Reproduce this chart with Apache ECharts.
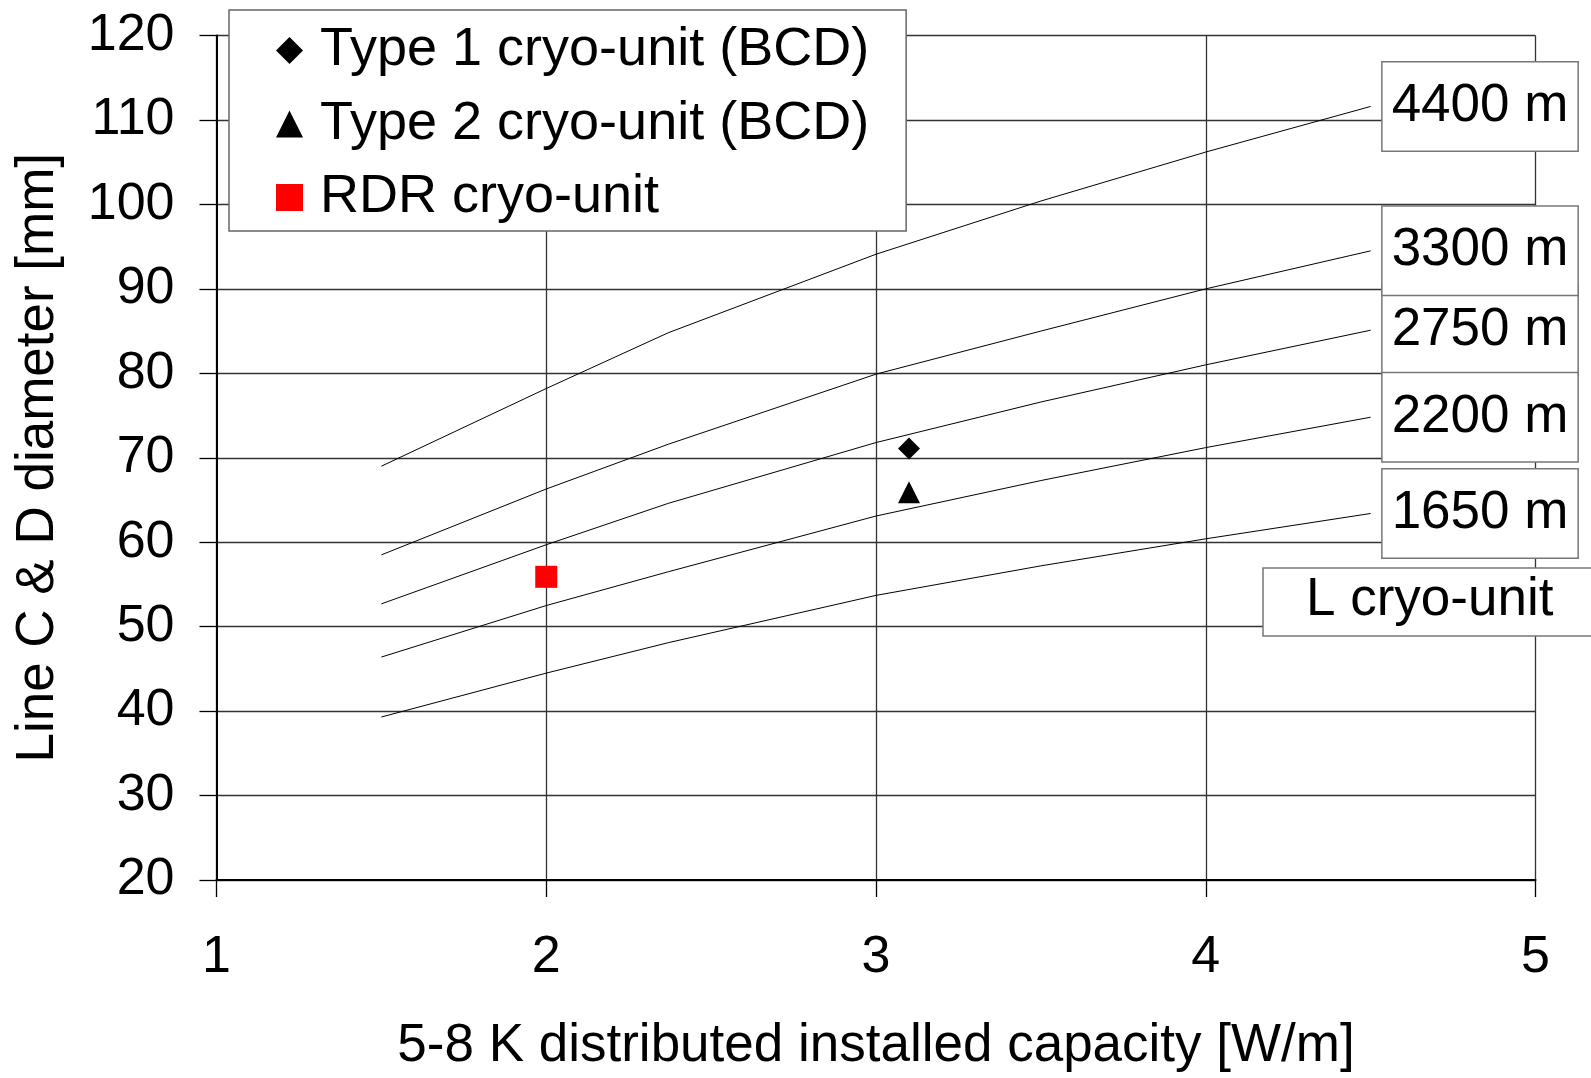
<!DOCTYPE html>
<html>
<head>
<meta charset="utf-8">
<script src="https://cdn.jsdelivr.net/npm/echarts@6/dist/echarts.min.js"></script>
<style>
html,body{margin:0;padding:0;background:#fff;}
#chart{width:1591px;height:1078px;}
</style>
</head>
<body>
<div id="chart"></div>
<script>
// ---- data ----
const capacityX = [1.5, 2, 2.37, 3, 3.5, 4, 4.5];
const L4400 = [69.0, 78.2, 84.8, 94.1, 100.4, 106.2, 111.6];
const L3300 = [58.5, 66.3, 71.6, 79.9, 85.0, 90.0, 94.5];
const L2750 = [52.7, 59.7, 64.6, 71.8, 76.6, 81.0, 85.1];
const L2200 = [46.4, 52.5, 56.5, 63.1, 67.3, 71.2, 74.8];
const L1650 = [39.3, 44.5, 48.1, 53.7, 57.2, 60.4, 63.4];
const curveNames = ['4400 m', '3300 m', '2750 m', '2200 m', '1650 m'];
const curveValues = [L4400, L3300, L2750, L2200, L1650];

const type1Point = [3.1, 71.1];
const type2Point = [3.1, 65.9];
const rdrPoint = [2.0, 55.9];
const pointNames = ['Type 1 cryo-unit (BCD)', 'Type 2 cryo-unit (BCD)', 'RDR cryo-unit'];

const xTicks = [1, 2, 3, 4, 5];
const yTicks = [20, 30, 40, 50, 60, 70, 80, 90, 100, 110, 120];
const xTitle = '5-8 K distributed installed capacity [W/m]';
const yTitle = 'Line C & D diameter [mm]';
const boxNote = 'L cryo-unit';

// ---- chart ----
const FONT = "'Liberation Sans', Arial, sans-serif";
const chart = echarts.init(document.getElementById('chart'), null, {renderer: 'canvas'});

function pairs(xs, ys) { return xs.map((x, i) => [x, ys[i]]); }

const lineSeries = curveNames.map((name, i) => ({
  name: name,
  type: 'line',
  data: pairs(capacityX, curveValues[i]),
  symbol: 'none',
  silent: true,
  z: name === '2750 m' ? 2 : 3,
  lineStyle: {color: '#000', width: 1},
  endLabel: {
    show: true,
    formatter: '{a}',
    distance: 12,
    fontFamily: FONT,
    fontSize: 53,
    lineHeight: 54,
    color: '#000',
    backgroundColor: '#fff',
    borderColor: '#777',
    borderWidth: 1.5,
    padding: [17, 9, 17, 9]
  }
}));

const option = {
  animation: false,
  backgroundColor: '#fff',
  textStyle: {fontFamily: FONT},
  title: {
    text: boxNote,
    left: 1263,
    top: 568,
    padding: [6, 60, 9, 43],
    backgroundColor: '#fff',
    borderColor: '#777',
    borderWidth: 1.5,
    textStyle: {fontFamily: FONT, fontSize: 53, fontWeight: 'normal', color: '#000', lineHeight: 53}
  },
  legend: {
    orient: 'vertical',
    left: 229,
    top: 10,
    padding: [13.5, 37, 6.5, 47],
    itemGap: 19.5,
    itemWidth: 27,
    itemHeight: 27,
    backgroundColor: '#fff',
    borderColor: '#666',
    borderWidth: 1.5,
    selectedMode: false,
    textStyle: {fontFamily: FONT, fontSize: 54, color: '#000', padding: [0, 0, 0, 12]},
    data: [
      {name: pointNames[0], icon: 'diamond'},
      {name: pointNames[1], icon: 'triangle'},
      {name: pointNames[2], icon: 'rect'}
    ]
  },
  grid: {left: 216.5, right: 55.5, top: 35.5, bottom: 193.2, containLabel: false},
  xAxis: {
    type: 'value',
    min: xTicks[0],
    max: xTicks[xTicks.length - 1],
    interval: 1,
    name: xTitle,
    nameLocation: 'middle',
    nameGap: 140,
    nameTextStyle: {fontFamily: FONT, fontSize: 53, color: '#000'},
    axisLine: {show: true, onZero: false, lineStyle: {color: '#000', width: 2}},
    axisTick: {show: true, inside: false, length: 17, lineStyle: {color: '#000', width: 1.3}},
    axisLabel: {margin: 52, fontFamily: FONT, fontSize: 52, color: '#000'},
    splitLine: {show: true, lineStyle: {color: '#333', width: 1.3}}
  },
  yAxis: {
    type: 'value',
    min: yTicks[0],
    max: yTicks[yTicks.length - 1],
    interval: 10,
    name: yTitle,
    nameLocation: 'middle',
    nameGap: 152,
    nameRotate: 90,
    nameTextStyle: {fontFamily: FONT, fontSize: 53, color: '#000'},
    axisLine: {show: true, onZero: false, lineStyle: {color: '#000', width: 2}},
    axisTick: {show: true, inside: false, length: 17, lineStyle: {color: '#000', width: 1.3}},
    axisLabel: {margin: 42, fontFamily: FONT, fontSize: 52, color: '#000', padding: [4, 0, 0, 0]},
    splitLine: {show: true, lineStyle: {color: '#333', width: 1.3}}
  },
  series: lineSeries.concat([
    {name: pointNames[0], type: 'scatter', data: [type1Point], symbol: 'diamond', symbolSize: 22,
     itemStyle: {color: '#000', opacity: 1}, z: 5},
    {name: pointNames[1], type: 'scatter', data: [type2Point], symbol: 'triangle', symbolSize: 22,
     itemStyle: {color: '#000', opacity: 1}, z: 5},
    {name: pointNames[2], type: 'scatter', data: [rdrPoint], symbol: 'rect', symbolSize: 22,
     itemStyle: {color: '#ff0000', opacity: 1}, z: 5}
  ])
};
chart.setOption(option);
</script>
</body>
</html>
